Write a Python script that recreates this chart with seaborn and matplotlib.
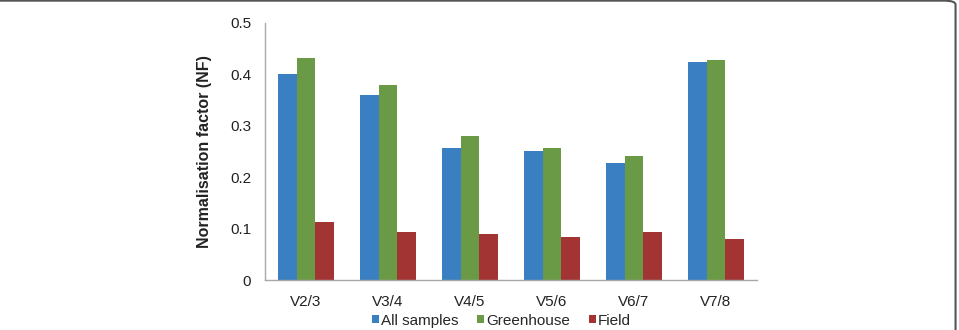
import matplotlib
matplotlib.use("Agg")
import matplotlib.pyplot as plt
from matplotlib.patches import FancyBboxPatch
import pandas as pd
import seaborn as sns

# values
stages = ["V2/3", "V3/4", "V4/5", "V5/6", "V6/7", "V7/8"]
all_samples = [0.401, 0.359, 0.256, 0.250, 0.227, 0.423]
greenhouse = [0.432, 0.379, 0.279, 0.256, 0.241, 0.428]
field = [0.112, 0.094, 0.089, 0.083, 0.094, 0.080]
groups = ["All samples", "Greenhouse", "Field"]
colors = ["#3A7FC1", "#6A9A45", "#A23434"]

# build long-form table for seaborn
df = pd.DataFrame({
    "stage": stages * 3,
    "nf": all_samples + greenhouse + field,
    "group": [g for g in groups for _ in stages],
})

sns.set_style("white")
plt.rcParams["font.family"] = ["Liberation Sans", "DejaVu Sans"]

fig = plt.figure(figsize=(9.59, 3.30), dpi=100)
ax = fig.add_axes([0.2763, 0.1515, 0.5131, 0.7797])

sns.barplot(data=df, x="stage", y="nf", hue="group", palette=colors,
            width=0.68, gap=0, saturation=1, ax=ax, linewidth=0)

ax.set_ylim(0, 0.5)
ax.set_yticks([0, 0.1, 0.2, 0.3, 0.4, 0.5])
ax.set_yticklabels(["0", "0.1", "0.2", "0.3", "0.4", "0.5"])
ax.tick_params(axis="both", length=0, labelsize=11, colors="#222222")
ax.tick_params(axis="y", pad=10)
ax.tick_params(axis="x", pad=11)
ax.set_xlabel("")
ax.set_ylabel("Normalisation factor (NF)", fontsize=11.5, fontweight="bold",
              color="#222222", labelpad=13)

for side in ["top", "right"]:
    ax.spines[side].set_visible(False)
for side in ["left", "bottom"]:
    ax.spines[side].set_color("#A8A8A8")
    ax.spines[side].set_linewidth(1)

ax.legend(loc="center", bbox_to_anchor=(0.523, 0.028),
          bbox_transform=fig.transFigure, ncol=3, frameon=False,
          fontsize=11, handlelength=0.45, handleheight=0.45,
          handletextpad=0.15, columnspacing=1.2, borderpad=0)

# rounded frame around the figure (only top and right visible)
frame = FancyBboxPatch((-0.05, -0.1), 1.0464, 1.098,
                       boxstyle="round,pad=0,rounding_size=0.012",
                       transform=fig.transFigure, fill=False,
                       edgecolor="#555555", linewidth=1.5, clip_on=False)
fig.patches.append(frame)

fig.savefig("out.png", dpi=100)
